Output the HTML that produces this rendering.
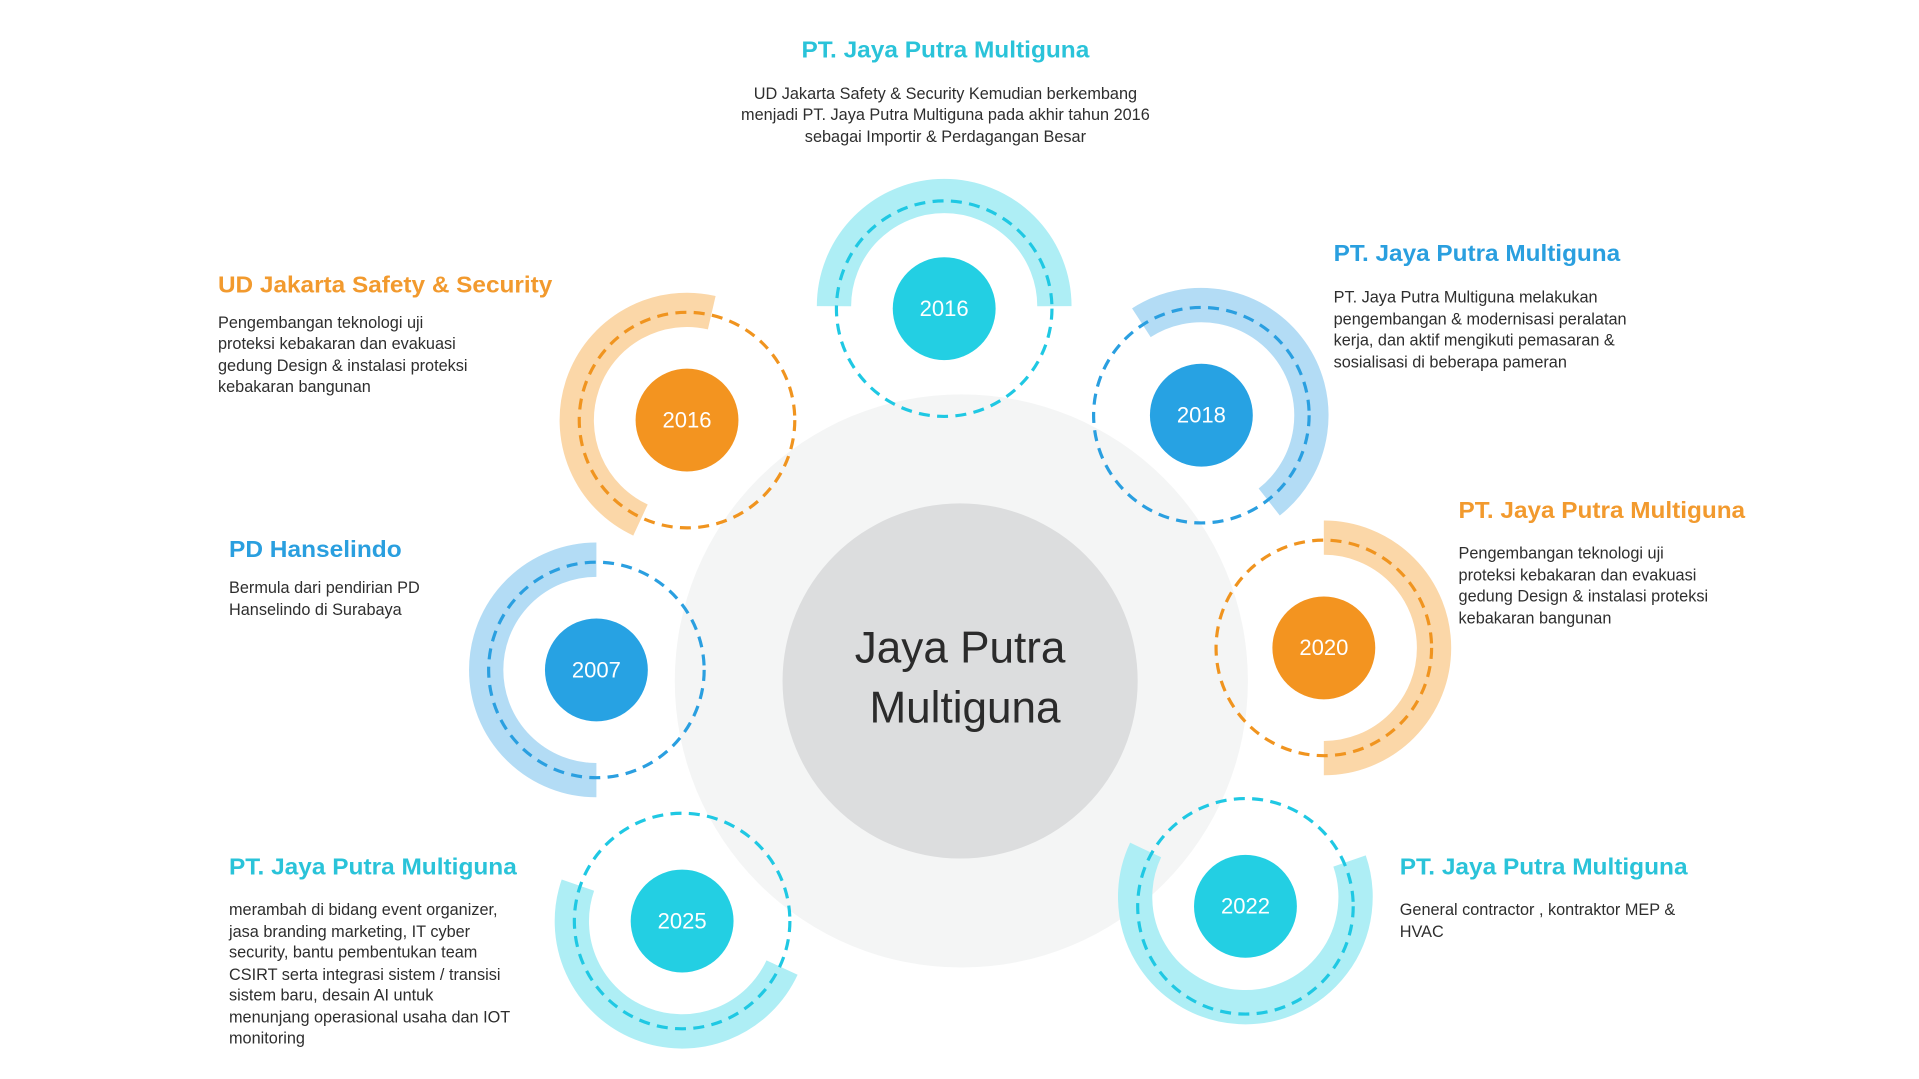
<!DOCTYPE html>
<html><head><meta charset="utf-8"><style>
html,body{margin:0;padding:0;background:#fff;width:1919px;height:1079px;overflow:hidden}
svg{display:block}
.h{font-family:"Liberation Sans",sans-serif;font-weight:bold;font-size:19px}
.b{font-family:"Liberation Sans",sans-serif;font-size:13.3px;fill:#2e2e2e}
.y{font-family:"Liberation Sans",sans-serif;font-size:18px;fill:#fff;text-anchor:middle}
.band{fill:none;stroke-width:28}
.dash{fill:none;stroke-width:2.6;stroke-dasharray:9 6}
</style></head><body>
<svg width="1919" height="1079" viewBox="0 0 1567 881" preserveAspectRatio="none" xmlns="http://www.w3.org/2000/svg">
<rect width="1567" height="881" fill="#fff"/>
<circle cx="785" cy="556" r="234" fill="#f4f5f5"/>
<circle cx="784" cy="556" r="145" fill="#dcddde"/>
<text x="784" y="541" text-anchor="middle" font-family="Liberation Sans,sans-serif" font-size="36" fill="#2b2b2b">Jaya Putra</text>
<text x="788" y="590" text-anchor="middle" font-family="Liberation Sans,sans-serif" font-size="36" fill="#2b2b2b">Multiguna</text>

<path class="band" stroke="#aeeef5" d="M681,250 A90 90 0 0 1 861,250"/>
<circle class="dash" stroke="#1fc8e3" cx="771" cy="252" r="88"/>
<circle cx="771" cy="252" r="42" fill="#23cfe3"/>
<text class="y" x="771" y="258">2016</text>

<path class="band" stroke="#fbd7a8" d="M523,424.6 A90 90 0 0 1 581.2,255.3"/>
<circle class="dash" stroke="#f0941f" cx="561" cy="343" r="88"/>
<circle cx="561" cy="343" r="42" fill="#f39420"/>
<text class="y" x="561" y="349">2016</text>

<path class="band" stroke="#b3dcf5" d="M487,637 A90 90 0 0 1 487,457"/>
<circle class="dash" stroke="#2a9fe0" cx="487" cy="547" r="88"/>
<circle cx="487" cy="547" r="42" fill="#27a2e3"/>
<text class="y" x="487" y="553">2007</text>

<path class="band" stroke="#b3dcf5" d="M932,263.5 A90 90 0 0 1 1036.4,409.9"/>
<circle class="dash" stroke="#2a9fe0" cx="981" cy="339" r="88"/>
<circle cx="981" cy="339" r="42" fill="#27a2e3"/>
<text class="y" x="981" y="345">2018</text>

<path class="band" stroke="#fbd7a8" d="M1081,439 A90 90 0 0 1 1081,619"/>
<circle class="dash" stroke="#f0941f" cx="1081" cy="529" r="88"/>
<circle cx="1081" cy="529" r="42" fill="#f39420"/>
<text class="y" x="1081" y="535">2020</text>

<path class="band" stroke="#aeeef5" d="M1102,703 A90 90 0 1 1 935.5,694"/>
<circle class="dash" stroke="#1fc8e3" cx="1017" cy="740" r="88"/>
<circle cx="1017" cy="740" r="42" fill="#23cfe3"/>
<text class="y" x="1017" y="746">2022</text>

<path class="band" stroke="#aeeef5" d="M638.6,790 A90 90 0 0 1 471.9,722.7"/>
<circle class="dash" stroke="#1fc8e3" cx="557" cy="752" r="88"/>
<circle cx="557" cy="752" r="42" fill="#23cfe3"/>
<text class="y" x="557" y="758">2025</text>

<text class="h" x="772" y="47" text-anchor="middle" fill="#2ac3d9" textLength="235" lengthAdjust="spacingAndGlyphs">PT. Jaya Putra Multiguna</text>
<text class="b" x="772" y="81" text-anchor="middle">UD Jakarta Safety &amp; Security Kemudian berkembang</text>
<text class="b" x="772" y="98" text-anchor="middle">menjadi PT. Jaya Putra Multiguna pada akhir tahun 2016</text>
<text class="b" x="772" y="116" text-anchor="middle">sebagai Importir &amp; Perdagangan Besar</text>

<text class="h" x="178" y="239" fill="#f29a2e" textLength="273" lengthAdjust="spacingAndGlyphs">UD Jakarta Safety &amp; Security</text>
<text class="b" x="178" y="268">Pengembangan teknologi uji</text>
<text class="b" x="178" y="285">proteksi kebakaran dan evakuasi</text>
<text class="b" x="178" y="303">gedung Design &amp; instalasi proteksi</text>
<text class="b" x="178" y="320">kebakaran bangunan</text>

<text class="h" x="1089" y="213" fill="#2a9fdf" textLength="234" lengthAdjust="spacingAndGlyphs">PT. Jaya Putra Multiguna</text>
<text class="b" x="1089" y="247">PT. Jaya Putra Multiguna melakukan</text>
<text class="b" x="1089" y="265">pengembangan &amp; modernisasi peralatan</text>
<text class="b" x="1089" y="282">kerja, dan aktif mengikuti pemasaran &amp;</text>
<text class="b" x="1089" y="300">sosialisasi di beberapa pameran</text>

<text class="h" x="1191" y="423" fill="#f29a2e" textLength="234" lengthAdjust="spacingAndGlyphs">PT. Jaya Putra Multiguna</text>
<text class="b" x="1191" y="456">Pengembangan teknologi uji</text>
<text class="b" x="1191" y="474">proteksi kebakaran dan evakuasi</text>
<text class="b" x="1191" y="491">gedung Design &amp; instalasi proteksi</text>
<text class="b" x="1191" y="509">kebakaran bangunan</text>

<text class="h" x="187" y="455" fill="#2a9fdf" textLength="141" lengthAdjust="spacingAndGlyphs">PD Hanselindo</text>
<text class="b" x="187" y="484">Bermula dari pendirian PD</text>
<text class="b" x="187" y="502">Hanselindo di Surabaya</text>

<text class="h" x="187" y="714" fill="#2ac3d9" textLength="235" lengthAdjust="spacingAndGlyphs">PT. Jaya Putra Multiguna</text>
<text class="b" x="187" y="747">merambah di bidang event organizer,</text>
<text class="b" x="187" y="765">jasa branding marketing, IT cyber</text>
<text class="b" x="187" y="782">security, bantu pembentukan team</text>
<text class="b" x="187" y="800">CSIRT serta integrasi sistem / transisi</text>
<text class="b" x="187" y="817">sistem baru, desain AI untuk</text>
<text class="b" x="187" y="835">menunjang operasional usaha dan IOT</text>
<text class="b" x="187" y="852">monitoring</text>

<text class="h" x="1143" y="714" fill="#2ac3d9" textLength="235" lengthAdjust="spacingAndGlyphs">PT. Jaya Putra Multiguna</text>
<text class="b" x="1143" y="747">General contractor , kontraktor MEP &amp;</text>
<text class="b" x="1143" y="765">HVAC</text>
</svg>
</body></html>
